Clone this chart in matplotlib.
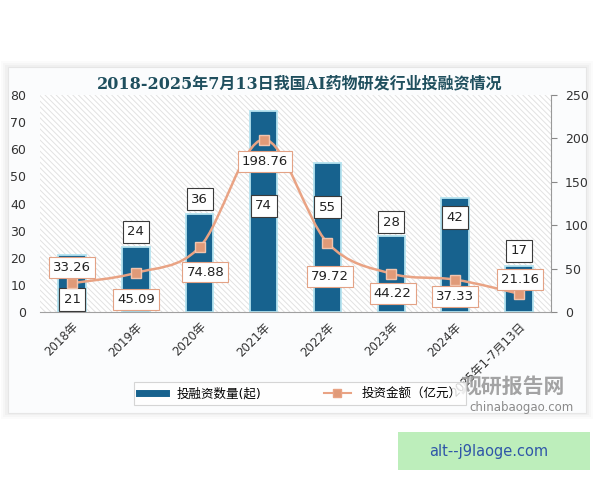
import numpy as np
import matplotlib
matplotlib.use("Agg")
import matplotlib.pyplot as plt
from matplotlib.patches import Rectangle
from matplotlib.path import Path
from matplotlib.patches import PathPatch
from matplotlib.lines import Line2D

plt.rcParams['font.family'] = ['DejaVu Sans', 'Noto Sans CJK SC']
plt.rcParams['hatch.linewidth'] = 0.7

# dados
anos = ['2018年', '2019年', '2020年', '2021年', '2022年', '2023年', '2024年', '2025年1-7月13日']
quantidade = [21, 24, 36, 74, 55, 28, 42, 17]
valor = [33.26, 45.09, 74.88, 198.76, 79.72, 44.22, 37.33, 21.16]
titulo = '2018-2025年7月13日我国AI药物研发行业投融资情况'

# deslocamento dos rótulos (pontos)
desl_qtd = [-32, 11, 11, -68, -32, 10, -14, 11]
desl_val = [11, -19, -18, -16, -24, -14, -12, 10]
desl_val_x = [0, 0, 4, 1, 2, 1, 0, 1]

azul = '#17628e'
laranja = '#e9a384'

fig = plt.figure(figsize=(6, 4.8), dpi=100)
fig.patch.set_facecolor('white')

# cartão com sombra
for i, a in enumerate([0.04, 0.05, 0.06]):
    d = (3 - i) * 0.004
    fig.patches.append(Rectangle((0.013 - d, 0.140 - d), 0.964 + 2 * d, 0.720 + 2 * d,
                                 transform=fig.transFigure, facecolor='#9a9a9a',
                                 edgecolor='none', alpha=a, zorder=-3))
fig.patches.append(Rectangle((0.013, 0.140), 0.964, 0.720, transform=fig.transFigure,
                             facecolor='#fbfcfd', edgecolor='#e6e6e6', lw=0.8, zorder=-2))

ax = fig.add_axes([0.067, 0.35, 0.851, 0.452])
ax.set_facecolor('none')
ax2 = ax.twinx()

x = np.arange(len(anos))

# fundo listrado
ax.add_patch(Rectangle((0, 0), 1, 1, transform=ax.transAxes, facecolor='white',
                       edgecolor='#e2e2e2', lw=0, hatch='\\\\\\\\\\\\', zorder=0))

ax.bar(x, quantidade, width=0.43, color=azul, edgecolor='#b5e3f0', linewidth=1.3, zorder=2)
ax.set_xlim(-0.5, len(anos) - 0.5)
ax.set_ylim(0, 80)
ax.set_yticks(np.arange(0, 81, 10))
ax2.set_ylim(0, 250)
ax2.set_yticks(np.arange(0, 251, 50))

# linha suavizada (Catmull-Rom -> Bezier)
pts = np.column_stack([x, valor])
verts = [pts[0]]
codes = [Path.MOVETO]
for i in range(len(pts) - 1):
    p0 = pts[i - 1] if i > 0 else pts[i]
    p1 = pts[i]
    p2 = pts[i + 1]
    p3 = pts[i + 2] if i + 2 < len(pts) else pts[i + 1]
    c1 = p1 + (p2 - p0) / 6
    c2 = p2 - (p3 - p1) / 6
    verts += [c1, c2, p2]
    codes += [Path.CURVE4] * 3
ax2.add_patch(PathPatch(Path(verts, codes), facecolor='none', edgecolor=laranja, lw=1.8, zorder=3))
ax2.plot(x, valor, linestyle='none', marker='s', markersize=7, color='#e09a78',
         markeredgecolor='#f1c4ae', zorder=4)

for i in range(len(anos)):
    ax.annotate(str(quantidade[i]), (x[i], quantidade[i]), xytext=(0, desl_qtd[i]),
                textcoords='offset points', ha='center', va='center', fontsize=9.5, color='#222222',
                bbox=dict(boxstyle='square,pad=0.35', facecolor='white', edgecolor='#3a3a3a', lw=0.8),
                zorder=6)
    ax2.annotate(f'{valor[i]:.2f}', (x[i], valor[i]), xytext=(desl_val_x[i], desl_val[i]),
                 textcoords='offset points', ha='center', va='center', fontsize=9.5, color='#222222',
                 bbox=dict(boxstyle='square,pad=0.3', facecolor='white', edgecolor='#e3a285', lw=0.8),
                 zorder=6)

ax.set_xticks(x)
ax.set_xticklabels(anos, rotation=45, ha='right', va='top', rotation_mode='anchor', fontsize=8.5,
                   color='#333333')
ax.tick_params(axis='x', length=0, pad=6)
ax.tick_params(axis='y', length=0, pad=10, labelsize=9, labelcolor='#333333')
ax2.tick_params(axis='y', length=4, color='#888888', pad=6, labelsize=9, labelcolor='#333333')

for s in ['top', 'left', 'right']:
    ax.spines[s].set_visible(False)
    ax2.spines[s].set_visible(False)
ax2.spines['right'].set_visible(True)
ax2.spines['right'].set_color('#999999')
ax.spines['bottom'].set_color('#a0a0a0')
ax2.spines['bottom'].set_visible(False)

fig.text(0.5, 0.825, titulo, ha='center', va='center', fontsize=11.5, fontweight='bold',
         color='#1f4f5e', family=['DejaVu Serif', 'Noto Sans CJK SC'])

# legenda
handles = [Line2D([], [], color=azul, lw=5),
           Line2D([], [], color=laranja, lw=1.5, marker='s', markersize=6, markerfacecolor='#e09a78')]
leg = fig.legend(handles, ['投融资数量(起)', '投资金额（亿元）'], ncol=2, loc='center',
                 bbox_to_anchor=(0.5, 0.18), frameon=True, fancybox=False, fontsize=9,
                 handlelength=2.2, columnspacing=5, borderpad=0.4)
leg.get_frame().set_edgecolor('#cccccc')
leg.get_frame().set_linewidth(0.8)

# marca d'água
fig.text(0.855, 0.195, '观研报告网', ha='center', va='center', fontsize=15, fontweight='bold',
         color='#9a9a9a', family=['Noto Sans CJK SC'], alpha=0.9)
fig.text(0.87, 0.150, 'chinabaogao.com', ha='center', va='center', fontsize=8.5, color='#8a8a8a')

# caixa verde
fig.patches.append(Rectangle((0.663, 0.021), 0.32, 0.079, transform=fig.transFigure,
                             facecolor='#bdeebb', edgecolor='none', zorder=5))
fig.text(0.815, 0.06, 'alt--j9laoge.com', ha='center', va='center', fontsize=10.5, color='#2f56a8',
         zorder=6)

fig.savefig('out.png', dpi=100)
